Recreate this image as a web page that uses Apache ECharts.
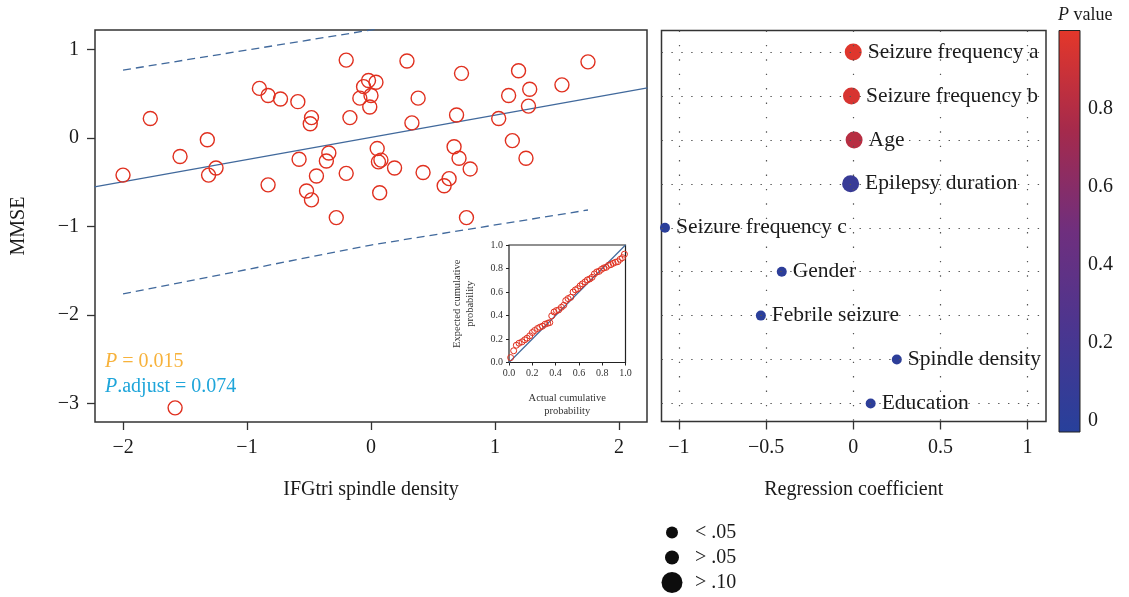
<!DOCTYPE html>
<html>
<head>
<meta charset="utf-8">
<script src="https://cdn.jsdelivr.net/npm/echarts@6/dist/echarts.min.js"></script>
<style>
html,body{margin:0;padding:0;background:#fff;}
#chart{width:1129px;height:597px;}
</style>
</head>
<body>
<div id="chart"></div>
<script>
// ---------- data ----------
const scatterX = [-2.00,-1.78,-1.54,-1.32,-1.25,-1.31,-0.90,-0.83,-0.73,-0.83,-0.59,-0.48,-0.49,-0.58,-0.34,-0.36,-0.44,-0.52,-0.48,-0.28,-0.20,-0.17,-0.20,-0.09,-0.06,-0.02,0.04,0.00,-0.01,0.29,0.38,0.33,0.05,0.06,0.08,0.19,0.07,0.73,0.69,0.67,0.71,0.80,0.42,0.63,0.59,0.77,1.19,1.11,1.28,1.27,1.03,1.14,1.25,1.54,1.75,-1.58];
const scatterY = [-0.42,0.22,-0.21,-0.02,-0.34,-0.42,0.56,0.48,0.44,-0.53,0.41,0.23,0.16,-0.24,-0.17,-0.26,-0.43,-0.60,-0.70,-0.90,0.88,0.23,-0.40,0.45,0.58,0.65,0.63,0.48,0.35,0.87,0.45,0.17,-0.12,-0.27,-0.25,-0.34,-0.62,0.73,0.26,-0.10,-0.23,-0.35,-0.39,-0.46,-0.54,-0.90,0.76,0.48,0.55,0.36,0.22,-0.03,-0.23,0.60,0.86,-3.05];
const fitX = [-2.23, 2.23];
const fitY = [-0.554, 0.565];
const upperX = [-2, 0, 1.75];
const upperY = [0.767, 1.22, 1.70];
const lowerX = [-2, 0, 1.75];
const lowerY = [-1.763, -1.21, -0.814];
const leftXTicks = [-2, -1, 0, 1, 2];
const leftYTicks = [-3, -2, -1, 0, 1];
const statText1 = '= 0.015';
const statText2 = '.adjust = 0.074';

const ppActual = [0.014,0.04,0.063,0.086,0.112,0.135,0.155,0.178,0.2,0.22,0.244,0.264,0.287,0.31,0.332,0.35,0.367,0.387,0.407,0.427,0.45,0.47,0.487,0.507,0.53,0.55,0.57,0.59,0.61,0.63,0.653,0.673,0.693,0.713,0.733,0.754,0.774,0.794,0.814,0.834,0.854,0.874,0.894,0.914,0.934,0.954,0.974,0.991];
const ppExpected = [0.042,0.10,0.147,0.164,0.176,0.193,0.207,0.227,0.255,0.272,0.289,0.3,0.309,0.326,0.334,0.34,0.397,0.43,0.442,0.448,0.47,0.487,0.527,0.544,0.555,0.6,0.618,0.629,0.652,0.669,0.686,0.703,0.711,0.725,0.754,0.771,0.776,0.793,0.805,0.81,0.827,0.833,0.844,0.853,0.858,0.878,0.892,0.922];
const diagX = [0, 1];
const diagY = [0, 1];

const factors = ['Seizure frequency a','Seizure frequency b','Age','Epilepsy duration','Seizure frequency c','Gender','Febrile seizure','Spindle density','Education'];
const coefs = [0.0, -0.01, 0.005, -0.015, -1.08, -0.41, -0.53, 0.25, 0.10];
const pValues = [0.98, 0.95, 0.82, 0.12, 0.03, 0.04, 0.03, 0.04, 0.04];
const rightXTicks = [-1, -0.5, 0, 0.5, 1];
const colorTicks = [0, 0.2, 0.4, 0.6, 0.8];
const colorRange = [-0.03, 1];
const sizeLegendNames = ['< .05', '> .05', '> .10'];

// ---------- styles ----------
const FONT = '"Liberation Serif", "DejaVu Serif", serif';
const RED = '#e0301f';
const BLUE_LINE = '#41699c';
const PAL = ['#27409b','#4a3690','#6f2f7e','#a52a4c','#e4372a'];
const minus = v => String(v).replace('-', '\u2212');
const sizeOf = p => p < 0.05 ? 10 : (p > 0.10 ? 17 : 13);
const legendPx = [12, 14, 21];

const chart = echarts.init(document.getElementById('chart'), null, {renderer: 'canvas'});

const tickLabel = {fontFamily: FONT, fontSize: 20, color: '#1a1a1a'};
const hiddenLine = {show: false, onZero: false};

const option = {
  animation: false,
  backgroundColor: '#fff',
  textStyle: {fontFamily: FONT},
  title: [
    {left: 100, top: 347, text: '{i|P} ' + statText1,
     textStyle: {fontFamily: FONT, fontSize: 20, fontWeight: 'normal', color: '#f7b23b',
       rich: {i: {fontFamily: FONT, fontSize: 20, fontStyle: 'italic', color: '#f7b23b'}}}},
    {left: 100, top: 372, text: '{i|P}' + statText2,
     textStyle: {fontFamily: FONT, fontSize: 20, fontWeight: 'normal', color: '#1ea5da',
       rich: {i: {fontFamily: FONT, fontSize: 20, fontStyle: 'italic', color: '#1ea5da'}}}},
    {left: 1053, top: 1, text: '{i|P} value',
     textStyle: {fontFamily: FONT, fontSize: 18, fontWeight: 'normal', color: '#1a1a1a',
       rich: {i: {fontFamily: FONT, fontSize: 18, fontStyle: 'italic', color: '#1a1a1a'}}}}
  ],
  grid: [
    {left: 95, top: 30, width: 552, height: 392, show: true, borderColor: '#333', borderWidth: 1.5, backgroundColor: 'transparent'},
    {left: 509, top: 245, width: 116.5, height: 117.5, show: true, borderColor: '#222', borderWidth: 1.2, backgroundColor: '#fff'},
    {left: 661.5, top: 30.5, width: 384.5, height: 391, show: true, borderColor: '#333', borderWidth: 1.5, backgroundColor: 'transparent'},
    {left: 1059, top: 30.5, width: 21, height: 401.5, show: false},
    {left: 662, top: 520, width: 20, height: 75, show: false}
  ],
  xAxis: [
    {gridIndex: 0, type: 'value', min: -2.226, max: 2.226,
     axisLine: hiddenLine, splitLine: {show: false},
     axisTick: {show: true, customValues: leftXTicks, length: 8, lineStyle: {color: '#333', width: 1.3}},
     axisLabel: {customValues: leftXTicks, margin: 16, formatter: minus, ...tickLabel},
     name: 'IFGtri spindle density', nameLocation: 'middle', nameGap: 58,
     nameTextStyle: {fontFamily: FONT, fontSize: 20, color: '#1a1a1a'}},
    {gridIndex: 1, type: 'value', min: 0, max: 1, interval: 0.2,
     axisLine: hiddenLine, splitLine: {show: false},
     axisTick: {show: true, length: 3, lineStyle: {color: '#222'}},
     axisLabel: {margin: 6, formatter: v => v.toFixed(1), fontFamily: FONT, fontSize: 10, color: '#333'},
     name: 'Actual cumulative\nprobability', nameLocation: 'middle', nameGap: 29,
     nameTextStyle: {fontFamily: FONT, fontSize: 10.5, color: '#333', lineHeight: 13}},
    {gridIndex: 2, type: 'value', min: -1.1, max: 1.106,
     axisLine: hiddenLine, splitLine: {show: false},
     axisTick: {show: true, customValues: rightXTicks, length: 8, lineStyle: {color: '#333', width: 1.3}},
     axisLabel: {customValues: rightXTicks, margin: 16, formatter: minus, ...tickLabel},
     name: 'Regression coefficient', nameLocation: 'middle', nameGap: 58,
     nameTextStyle: {fontFamily: FONT, fontSize: 20, color: '#1a1a1a'}},
    {gridIndex: 3, type: 'category', data: [''], show: false},
    {gridIndex: 4, type: 'category', data: [''], show: false}
  ],
  yAxis: [
    {gridIndex: 0, type: 'value', min: -3.21, max: 1.22,
     axisLine: hiddenLine, splitLine: {show: false},
     axisTick: {show: true, customValues: leftYTicks, length: 8, lineStyle: {color: '#333', width: 1.3}},
     axisLabel: {customValues: leftYTicks, margin: 16, formatter: minus, ...tickLabel},
     name: 'MMSE', nameLocation: 'middle', nameGap: 66,
     nameTextStyle: {fontFamily: FONT, fontSize: 20, color: '#1a1a1a'}},
    {gridIndex: 1, type: 'value', min: 0, max: 1, interval: 0.2,
     axisLine: hiddenLine, splitLine: {show: false},
     axisTick: {show: true, length: 3, lineStyle: {color: '#222'}},
     axisLabel: {margin: 6, formatter: v => v.toFixed(1), fontFamily: FONT, fontSize: 10, color: '#333'},
     name: 'Expected cumulative\nprobability', nameLocation: 'middle', nameGap: 32,
     nameTextStyle: {fontFamily: FONT, fontSize: 10.5, color: '#333', lineHeight: 13}},
    {gridIndex: 2, type: 'value', min: 0.51, max: 9.41, inverse: true,
     axisLine: hiddenLine, splitLine: {show: false}, axisTick: {show: false}, axisLabel: {show: false}},
    {gridIndex: 3, type: 'value', min: colorRange[0], max: colorRange[1], position: 'right',
     axisLine: hiddenLine, splitLine: {show: false},
     axisTick: {show: true, inside: true, length: 4, customValues: colorTicks.slice(1), lineStyle: {color: '#222', width: 1.3}},
     axisLabel: {customValues: colorTicks, margin: 8, formatter: v => String(v), ...tickLabel}},
    {gridIndex: 3, type: 'value', min: colorRange[0], max: colorRange[1], position: 'left',
     axisLine: hiddenLine, splitLine: {show: false},
     axisTick: {show: true, inside: true, length: 4, customValues: colorTicks.slice(1), lineStyle: {color: '#222', width: 1.3}},
     axisLabel: {show: false}},
    {gridIndex: 4, type: 'category', data: sizeLegendNames, inverse: true, show: false}
  ],
  visualMap: [{
    type: 'continuous', show: false, min: 0, max: 1, dimension: 2, seriesIndex: 8,
    inRange: {color: PAL}
  }],
  series: [
    // 0 main scatter
    {type: 'scatter', xAxisIndex: 0, yAxisIndex: 0, symbol: 'circle', symbolSize: 14, z: 3,
     itemStyle: {color: 'rgba(0,0,0,0)', borderColor: RED, borderWidth: 1.4, opacity: 1},
     data: scatterX.map((x, i) => [x, scatterY[i]])},
    // 1 fit line
    {type: 'line', xAxisIndex: 0, yAxisIndex: 0, showSymbol: false, symbol: 'none', z: 2,
     lineStyle: {color: BLUE_LINE, width: 1.3}, data: fitX.map((x, i) => [x, fitY[i]])},
    // 2 upper band
    {type: 'line', xAxisIndex: 0, yAxisIndex: 0, symbol: 'none', clip: true, z: 2,
     lineStyle: {color: BLUE_LINE, width: 1.3, type: [8, 5]}, data: upperX.map((x, i) => [x, upperY[i]])},
    // 3 lower band
    {type: 'line', xAxisIndex: 0, yAxisIndex: 0, symbol: 'none', z: 2,
     lineStyle: {color: BLUE_LINE, width: 1.3, type: [8, 5]}, data: lowerX.map((x, i) => [x, lowerY[i]])},
    // 4 inset diagonal
    {type: 'line', xAxisIndex: 1, yAxisIndex: 1, symbol: 'none', z: 4,
     lineStyle: {color: BLUE_LINE, width: 1.2}, data: diagX.map((x, i) => [x, diagY[i]])},
    // 5 inset points
    {type: 'scatter', xAxisIndex: 1, yAxisIndex: 1, symbol: 'circle', symbolSize: 6, z: 5,
     itemStyle: {color: 'rgba(0,0,0,0)', borderColor: RED, borderWidth: 1, opacity: 1},
     data: ppActual.map((x, i) => [x, ppExpected[i]])},
    // 6 right dotted grid (horizontal)
    {type: 'scatter', xAxisIndex: 2, yAxisIndex: 2, data: [], silent: true, z: 1,
     markLine: {silent: true, symbol: 'none', label: {show: false},
       lineStyle: {color: '#555', width: 1.2, type: [1.4, 8.5]},
       data: factors.map((f, i) => ({yAxis: i + 1}))}},
    // 7 right dotted grid (vertical)
    {type: 'scatter', xAxisIndex: 2, yAxisIndex: 2, data: [], silent: true, z: 1,
     markLine: {silent: true, symbol: 'none', label: {show: false},
       lineStyle: {color: '#555', width: 1.2, type: [1.4, 13]},
       data: rightXTicks.map(v => ({xAxis: v}))}},
    // 8 right dots
    {type: 'scatter', xAxisIndex: 2, yAxisIndex: 2, z: 3,
     symbolSize: v => sizeOf(v[2]),
     itemStyle: {opacity: 1},
     label: {show: true, position: 'right', distance: 6, formatter: '{b}',
       fontFamily: FONT, fontSize: 21.5, color: '#1a1a1a'},
     data: factors.map((f, i) => ({name: f, value: [coefs[i], i + 1, pValues[i]]}))},
    // 9 color bar
    {type: 'custom', xAxisIndex: 3, yAxisIndex: 3, silent: true,
     renderItem: (params, api) => {
       const lo = api.coord([0, api.value(1)]);
       const hi = api.coord([0, api.value(2)]);
       const w = api.size([1, 0])[0];
       return {type: 'rect', shape: {x: lo[0] - w / 2, y: hi[1], width: w, height: lo[1] - hi[1]},
         style: {fill: {type: 'linear', x: 0, y: 0, x2: 0, y2: 1,
           colorStops: PAL.slice().reverse().map((c, k) => ({offset: k / (PAL.length - 1), color: c}))},
           stroke: '#222', lineWidth: 1}};
     },
     data: [[0, colorRange[0], colorRange[1]]]},
    // 10 size legend
    {type: 'scatter', xAxisIndex: 4, yAxisIndex: 5, silent: true,
     symbolSize: (v, p) => legendPx[p.dataIndex],
     itemStyle: {color: '#0d0d0d', opacity: 1},
     data: sizeLegendNames.map((n, i) => ({name: n, value: [0, i],
       label: {distance: 23 - legendPx[i] / 2}})),
     label: {show: true, position: 'right', formatter: '{b}', fontFamily: FONT, fontSize: 20, color: '#1a1a1a'}}
  ]
};
chart.setOption(option);
</script>
</body>
</html>
